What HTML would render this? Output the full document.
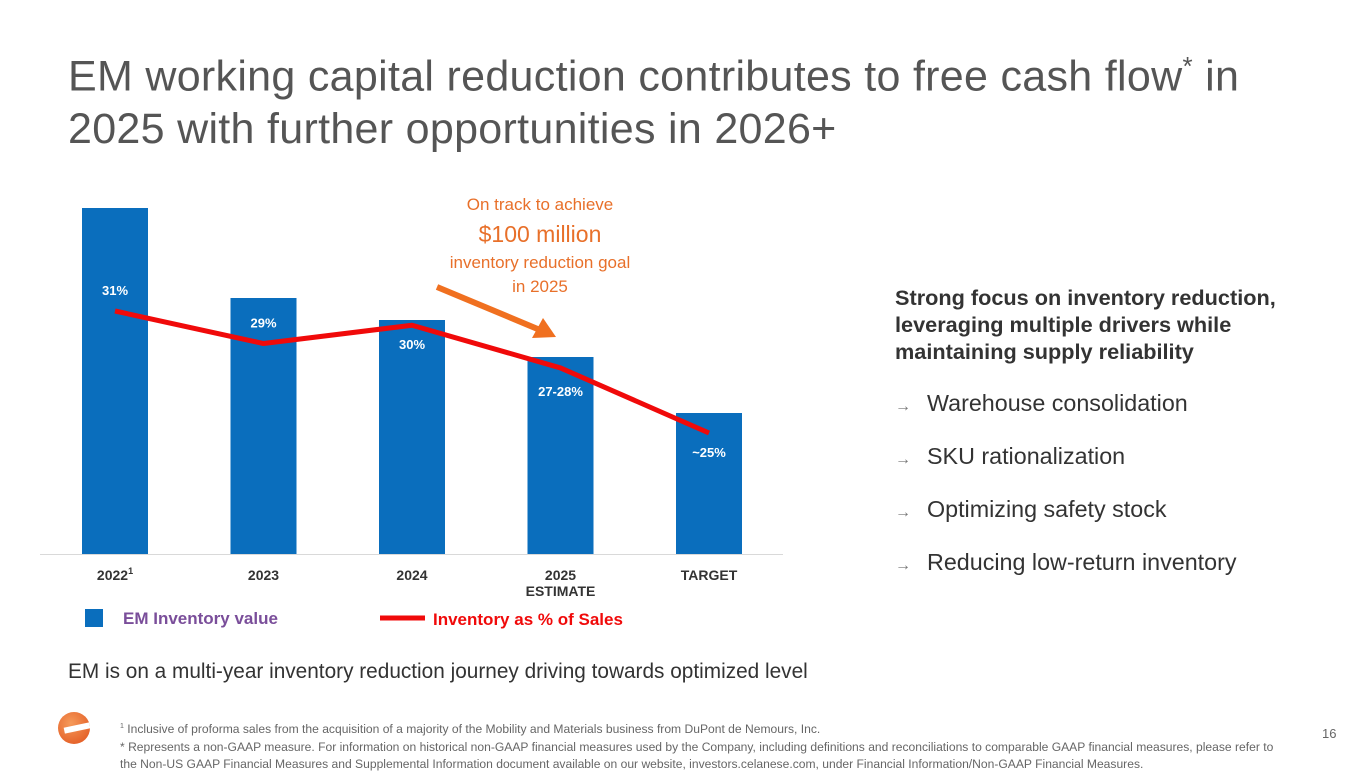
<!DOCTYPE html>
<html><head><meta charset="utf-8">
<style>
body{margin:0;width:1365px;height:768px;background:#fff;font-family:"Liberation Sans",sans-serif;position:relative;overflow:hidden}
.abs{position:absolute}
h1{position:absolute;left:68px;top:40px;margin:0;font-weight:normal;font-size:43px;line-height:53px;color:#555;letter-spacing:0.3px}
.rt{left:895px;color:#333}
.bul{font-size:23.3px;color:#333;left:895px}
.bul span{color:#777;font-size:16px;margin-right:16px}
.foot{left:120px;top:718px;font-size:12.1px;color:#666;line-height:17.5px;width:1240px}
</style></head><body>
<h1>EM working capital reduction contributes to free cash flow<sup style="font-size:26px">*</sup> in<br>2025 with further opportunities in 2026+</h1>
<svg id="chart" class="abs" style="left:0;top:0" width="1365" height="768"></svg>
<div class="abs" style="left:420px;top:193px;width:240px;text-align:center;color:#e8702a;font-size:17px;line-height:24px">On track to achieve<br><span style="font-size:23px;line-height:34px">$100 million</span><br>inventory reduction goal<br>in 2025</div>
<div class="abs rt" style="top:284px;font-size:21.7px;font-weight:bold;line-height:27px">Strong focus on inventory reduction,<br>leveraging multiple drivers while<br>maintaining supply reliability</div>
<div class="abs bul" style="top:390px"><span>→</span>Warehouse consolidation</div>
<div class="abs bul" style="top:443px"><span>→</span>SKU rationalization</div>
<div class="abs bul" style="top:496px"><span>→</span>Optimizing safety stock</div>
<div class="abs bul" style="top:549px"><span>→</span>Reducing low-return inventory</div>
<div class="abs" style="left:68px;top:660px;font-size:20.8px;color:#333">EM is on a multi-year inventory reduction journey driving towards optimized level</div>
<div class="abs" style="left:58px;top:712px;width:32px;height:32px;border-radius:50%;background:radial-gradient(circle at 40% 35%,#f59a5a,#e0501a)"><div style="position:absolute;left:6px;top:13px;width:26px;height:6px;background:#fff;transform:rotate(-12deg)"></div></div>
<div class="abs foot"><sup style="font-size:7px">1</sup> Inclusive of proforma sales from the acquisition of a majority of the Mobility and Materials business from DuPont de Nemours, Inc.<br>* Represents a non-GAAP measure. For information on historical non-GAAP financial measures used by the Company, including definitions and reconciliations to comparable GAAP financial measures, please refer to<br>the Non-US GAAP Financial Measures and Supplemental Information document available on our website, investors.celanese.com, under Financial Information/Non-GAAP Financial Measures.</div>
<div class="abs" style="left:1322px;top:726px;font-size:13px;color:#666">16</div>
<script>
const categories=["2022","2023","2024","2025","TARGET"];
const inventoryValues=[346,256,234,197,141];
const pctValues=[31,29.4,30.3,28.2,25];
const pctLabels=["31%","29%","30%","27-28%","~25%"];
const NS="http://www.w3.org/2000/svg";
const svg=document.getElementById('chart');
function mk(t,a){const e=document.createElementNS(NS,t);for(const k in a)e.setAttribute(k,a[k]);svg.appendChild(e);return e;}
const x0=115,step=148.5,base=554;
function xs(i){return x0+i*step;}
function yb(v){return base-v;}
function yl(v){return 311+(31-v)*20.33;}
let ax=mk('line',{x1:40,x2:783,y1:base+0.5,y2:base+0.5,stroke:'#d9d9d9','stroke-width':1});

categories.forEach((c,i)=>{
 const r=mk('rect',{x:xs(i)-33,y:yb(inventoryValues[i]),width:66,height:inventoryValues[i],fill:'#0a6ebd'});
 
 const t=mk('text',{x:xs(i),y:580,'text-anchor':'middle','font-size':14,'font-weight':'bold',fill:'#333','font-family':'Liberation Sans'});
 t.textContent=c;
 if(i===0){const s=document.createElementNS(NS,'tspan');s.setAttribute('font-size',9);s.setAttribute('dy',-6);s.textContent='1';t.appendChild(s);}
 
 if(i===3){const t2=mk('text',{x:xs(i),y:596,'text-anchor':'middle','font-size':14,'font-weight':'bold',fill:'#333','font-family':'Liberation Sans'});t2.textContent='ESTIMATE';
 }
});
const pts=pctValues.map((v,i)=>xs(i)+','+yl(v)).join(' ');
const pl=mk('polyline',{points:pts,fill:'none',stroke:'#f00a0a','stroke-width':5,'stroke-linejoin':'round'});

const offs=[-16,-16,24,28,24];
pctLabels.forEach((l,i)=>{
 const t=mk('text',{x:xs(i),y:yl(pctValues[i])+offs[i],'text-anchor':'middle','font-size':13,'font-weight':'bold',fill:'#fff','font-family':'Liberation Sans'});
 t.textContent=l;
});
const ar=mk('line',{x1:437,y1:287,x2:540,y2:330,stroke:'#f07020','stroke-width':6});

const ah=mk('polygon',{points:'556,337 532,338 543,318',fill:'#f07020'});

const lg1=mk('rect',{x:85,y:609,width:18,height:18,fill:'#0a6ebd'});

const lt1=mk('text',{x:123,y:624,'font-size':17,'font-weight':'bold',fill:'#7a4e9a','font-family':'Liberation Sans'});lt1.textContent='EM Inventory value';

const lg2=mk('line',{x1:380,x2:425,y1:618,y2:618,stroke:'#f00a0a','stroke-width':5});

const lt2=mk('text',{x:433,y:625,'font-size':17,'font-weight':'bold',fill:'#f00a0a','font-family':'Liberation Sans'});lt2.textContent='Inventory as % of Sales';

</script>
</body></html>
